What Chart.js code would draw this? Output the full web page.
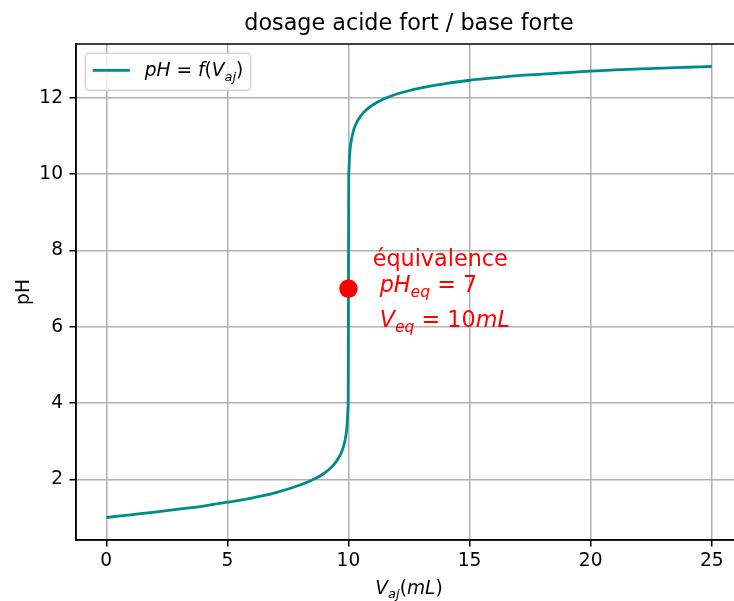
<!DOCTYPE html>
<html>
<head>
<meta charset="utf-8">
<script src="https://cdn.jsdelivr.net/npm/chart.js@4.4.1/dist/chart.umd.min.js"></script>
<style>
  html, body { margin: 0; padding: 0; background: #fff; overflow: hidden; }
  #wrap { width: 760px; height: 601px; }
</style>
</head>
<body>
<div id="wrap"><canvas id="c" width="760" height="601"></canvas></div>
<script>
// volume ajouté (mL) et pH
const vaj = [0, 1, 2, 3, 4, 5, 6, 7, 8, 8.5, 9, 9.3, 9.5, 9.7, 9.8, 9.9, 9.95, 9.98, 9.99, 10,
             10.01, 10.02, 10.05, 10.1, 10.2, 10.3, 10.5, 10.75, 11, 11.5, 12, 13, 14, 15, 16, 17,
             18, 19, 20, 21, 22, 23, 24, 25];
const ph  = [1.00, 1.07, 1.14, 1.22, 1.30, 1.40, 1.51, 1.65, 1.85, 1.98, 2.16, 2.32, 2.47, 2.69, 2.87, 3.17, 3.48, 3.87, 4.18, 7.00,
             9.82, 10.12, 10.52, 10.82, 11.12, 11.30, 11.52, 11.69, 11.81, 11.98, 12.10, 12.26, 12.37, 12.46, 12.52, 12.58,
             12.62, 12.66, 12.70, 12.73, 12.76, 12.78, 12.80, 12.82];

// point d'équivalence
const eqV = [10];
const eqPH = [7];

const xTicks = [0, 5, 10, 15, 20, 25];
const yTicks = [2, 4, 6, 8, 10, 12];

const FONT = '"DejaVu Sans"';
const TEAL = '#008b8b';

// petit rendu "mathtext" : morceaux italiques / indices
function drawMath(ctx, parts, x, y, size, color, measureOnly) {
    ctx.save();
    ctx.fillStyle = color;
    ctx.textAlign = 'left';
    ctx.textBaseline = 'alphabetic';
    let cx = x;
    for (const p of parts) {
        const s = p.sub ? size * 0.7 : size;
        ctx.font = (p.it ? 'italic ' : '') + s + 'px ' + FONT;
        if (!measureOnly) ctx.fillText(p.t, cx, y + (p.sub ? size * 0.24 : 0));
        cx += ctx.measureText(p.t).width;
    }
    ctx.restore();
    return cx - x;
}

const legendParts = [{t: 'pH', it: 1}, {t: ' = '}, {t: 'f', it: 1}, {t: '('}, {t: 'V', it: 1}, {t: 'aj', it: 1, sub: 1}, {t: ')'}];
const xLabelParts = [{t: 'V', it: 1}, {t: 'aj', it: 1, sub: 1}, {t: '('}, {t: 'mL', it: 1}, {t: ')'}];
const phEqParts = [{t: 'pH', it: 1}, {t: 'eq', it: 1, sub: 1}, {t: ' = '}, {t: '7'}];
const vEqParts = [{t: 'V', it: 1}, {t: 'eq', it: 1, sub: 1}, {t: ' = '}, {t: '10'}, {t: 'mL', it: 1}];

const decor = {
    id: 'decor',
    afterDraw(chart) {
        const ctx = chart.ctx;
        const a = chart.chartArea;
        const xs = chart.scales.x, ys = chart.scales.y;

        // cadre
        ctx.save();
        ctx.strokeStyle = '#000';
        ctx.lineWidth = 1.5;
        ctx.strokeRect(a.left, a.top, a.right - a.left, a.bottom - a.top);
        ctx.restore();

        // titre
        ctx.save();
        ctx.fillStyle = '#000';
        ctx.font = '22.3px ' + FONT;
        ctx.textAlign = 'center';
        ctx.textBaseline = 'alphabetic';
        ctx.fillText('dosage acide fort / base forte', (a.left + a.right) / 2, 30);
        ctx.restore();

        // titres des axes
        const w = drawMath(ctx, xLabelParts, 0, 0, 18.6, '#000', true);
        drawMath(ctx, xLabelParts, (a.left + a.right) / 2 - w / 2, 594, 18.6, '#000');

        ctx.save();
        ctx.translate(29, (a.top + a.bottom) / 2);
        ctx.rotate(-Math.PI / 2);
        ctx.fillStyle = '#000';
        ctx.font = '18.6px ' + FONT;
        ctx.textAlign = 'center';
        ctx.textBaseline = 'alphabetic';
        ctx.fillText('pH', 0, 0);
        ctx.restore();

        // annotation équivalence
        ctx.save();
        ctx.fillStyle = 'red';
        ctx.font = '22.3px ' + FONT;
        ctx.textAlign = 'left';
        ctx.textBaseline = 'alphabetic';
        const tx = xs.getPixelForValue(11);
        const by = ys.getPixelForValue(6);
        ctx.fillText('équivalence', tx, by - 61);
        ctx.restore();
        drawMath(ctx, phEqParts, tx + 7, by - 35, 22.3, 'red');
        drawMath(ctx, vEqParts, tx + 7, by, 22.3, 'red');

        // légende
        const lx = a.left + 9.3, ly = a.top + 9.3;
        const tw = drawMath(ctx, legendParts, 0, 0, 18.6, '#000', true);
        const bw = 7.4 + 37.2 + 14.9 + tw + 7.4, bh = 37;
        ctx.save();
        ctx.fillStyle = 'rgba(255,255,255,0.8)';
        ctx.strokeStyle = 'rgba(204,204,204,0.8)';
        ctx.lineWidth = 1.5;
        ctx.beginPath();
        ctx.roundRect(lx, ly, bw, bh, 4);
        ctx.fill();
        ctx.stroke();
        ctx.strokeStyle = TEAL;
        ctx.lineWidth = 2.8;
        ctx.beginPath();
        ctx.moveTo(lx + 7.4, ly + 17);
        ctx.lineTo(lx + 7.4 + 37.2, ly + 17);
        ctx.stroke();
        ctx.restore();
        drawMath(ctx, legendParts, lx + 7.4 + 37.2 + 14.9, ly + 23, 18.6, '#000');
    }
};

const courbe = vaj.map((v, i) => ({x: v, y: ph[i]}));
const equiv = eqV.map((v, i) => ({x: v, y: eqPH[i]}));

new Chart(document.getElementById('c'), {
    type: 'scatter',
    data: {
        datasets: [
            {
                data: equiv,
                order: 0,
                pointRadius: 9.3,
                pointHoverRadius: 9.3,
                pointBackgroundColor: 'red',
                pointBorderColor: 'red',
                pointBorderWidth: 0,
                showLine: false
            },
            {
                data: courbe,
                order: 1,
                showLine: true,
                borderColor: TEAL,
                borderWidth: 2.8,
                pointRadius: 0,
                pointHoverRadius: 0,
                cubicInterpolationMode: 'monotone',
                fill: false
            }
        ]
    },
    options: {
        responsive: false,
        animation: false,
        devicePixelRatio: 1,
        layout: { padding: { left: 0, top: 44, right: 18, bottom: 0 } },
        plugins: { legend: { display: false }, tooltip: { enabled: false }, title: { display: false } },
        scales: {
            x: {
                type: 'linear',
                min: -1.25,
                max: 26.25,
                afterBuildTicks: s => { s.ticks = xTicks.map(v => ({value: v})); },
                afterFit: s => { s.height = 61; },
                grid: { color: '#b0b0b0', lineWidth: 1.5, tickLength: 6.5, tickColor: '#000', tickWidth: 1.5 },
                border: { color: '#000', width: 1.5 },
                ticks: { color: '#000', font: { family: 'DejaVu Sans', size: 18.6 }, padding: 4, maxRotation: 0, autoSkip: false }
            },
            y: {
                type: 'linear',
                min: 0.41,
                max: 13.41,
                afterBuildTicks: s => { s.ticks = yTicks.map(v => ({value: v})); },
                afterFit: s => { s.width = 76; },
                grid: { color: '#b0b0b0', lineWidth: 1.5, tickLength: 6.5, tickColor: '#000', tickWidth: 1.5 },
                border: { color: '#000', width: 1.5 },
                ticks: { color: '#000', font: { family: 'DejaVu Sans', size: 18.6 }, padding: 6.5, autoSkip: false }
            }
        }
    },
    plugins: [decor]
});
</script>
</body>
</html>
